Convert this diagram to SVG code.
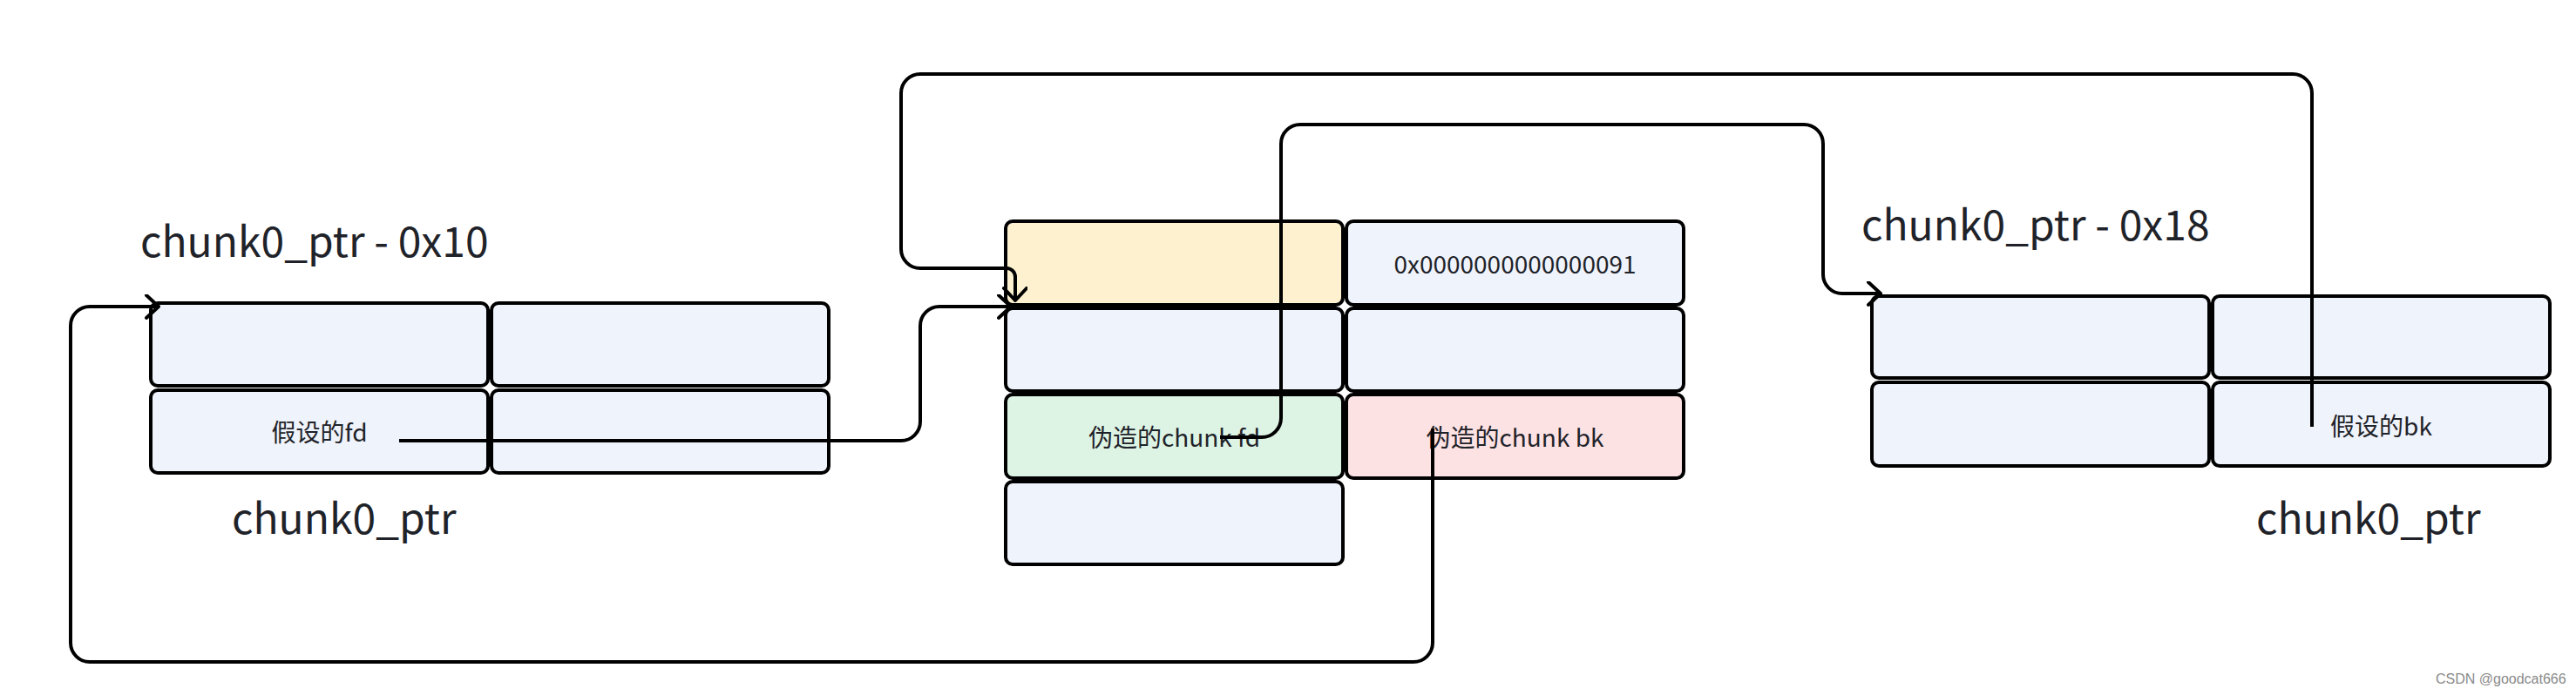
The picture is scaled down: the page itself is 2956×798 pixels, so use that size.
<svg xmlns="http://www.w3.org/2000/svg" width="2956" height="798" viewBox="0 0 2956 798">
<style>
.cell{stroke:#000;stroke-width:4;}
.b{fill:#EFF3FB;}
.y{fill:#FDF1CF;}
.g{fill:#DDF4E5;}
.p{fill:#FDE2E4;}
.t{font-family:"Noto Sans CJK SC","Noto Sans",sans-serif;fill:#1f2329;}
.s{font-size:28px;text-anchor:middle;}
.l{font-size:48px;}
.c{fill:none;stroke:#000;stroke-width:4;}
.wm{font-family:"Liberation Sans",Arial,sans-serif;font-size:16px;fill:#8a8a8a;}
</style>
<defs>
<marker id="arr" markerUnits="userSpaceOnUse" markerWidth="32" markerHeight="32" refX="16" refY="14" orient="auto">
<path d="M2 1 L16 14 L2 27" fill="none" stroke="#000" stroke-width="4" stroke-linejoin="round" stroke-linecap="round"/>
</marker>
</defs>
<rect width="2956" height="798" fill="#fff"/>

<g id="left-group">
<text class="t l" x="161" y="295">chunk0_ptr - 0x10</text>
<rect class="cell b" x="173" y="348" width="387" height="95" rx="8"/>
<rect class="cell b" x="564" y="348" width="387" height="95" rx="8"/>
<rect class="cell b" x="173" y="448" width="387" height="95" rx="8"/>
<rect class="cell b" x="564" y="448" width="387" height="95" rx="8"/>
<text class="t s" x="366.5" y="507">假设的fd</text>
<text class="t l" x="266" y="613">chunk0_ptr</text>
</g>

<g id="middle-group">
<rect class="cell y" x="1154" y="254" width="387" height="96" rx="8"/>
<rect class="cell b" x="1545" y="254" width="387" height="96" rx="8"/>
<rect class="cell b" x="1154" y="354" width="387" height="95" rx="8"/>
<rect class="cell b" x="1545" y="354" width="387" height="95" rx="8"/>
<rect class="cell g" x="1154" y="453" width="387" height="96" rx="8"/>
<rect class="cell p" x="1545" y="453" width="387" height="96" rx="8"/>
<rect class="cell b" x="1154" y="553" width="387" height="95" rx="8"/>
<text class="t s" x="1738.5" y="314">0x0000000000000091</text>
<text class="t s" x="1347.5" y="513">伪造的chunk fd</text>
<text class="t s" x="1738.5" y="513">伪造的chunk bk</text>
</g>

<g id="right-group">
<text class="t l" x="2136" y="276">chunk0_ptr - 0x18</text>
<rect class="cell b" x="2148" y="340" width="387" height="94" rx="8"/>
<rect class="cell b" x="2539" y="340" width="387" height="94" rx="8"/>
<rect class="cell b" x="2148" y="439" width="387" height="96" rx="8"/>
<rect class="cell b" x="2539" y="439" width="387" height="96" rx="8"/>
<text class="t s" x="2732.5" y="500">假设的bk</text>
<text class="t l" x="2589" y="613">chunk0_ptr</text>
</g>

<g id="connectors">
<path class="c" marker-end="url(#arr)" d="M458 506 H1034 A22 22 0 0 0 1056 484 V374 A22 22 0 0 1 1078 352 H1160"/>
<path class="c" marker-end="url(#arr)" d="M1644 492 V738 A22 22 0 0 1 1622 760 H103 A22 22 0 0 1 81 738 V374 A22 22 0 0 1 103 352 H182"/>
<path class="c" marker-end="url(#arr)" d="M2653 490 V107 A22 22 0 0 0 2631 85 H1056 A22 22 0 0 0 1034 107 V286 A22 22 0 0 0 1056 308 H1155 A10 10 0 0 1 1165 318 V345"/>
<path class="c" marker-end="url(#arr)" d="M1400 502 H1448 A22 22 0 0 0 1470 480 V165 A22 22 0 0 1 1492 143 H2070 A22 22 0 0 1 2092 165 V315 A22 22 0 0 0 2114 337 H2158"/>
</g>

<text class="wm" x="2795" y="785">CSDN @goodcat666</text>
</svg>
